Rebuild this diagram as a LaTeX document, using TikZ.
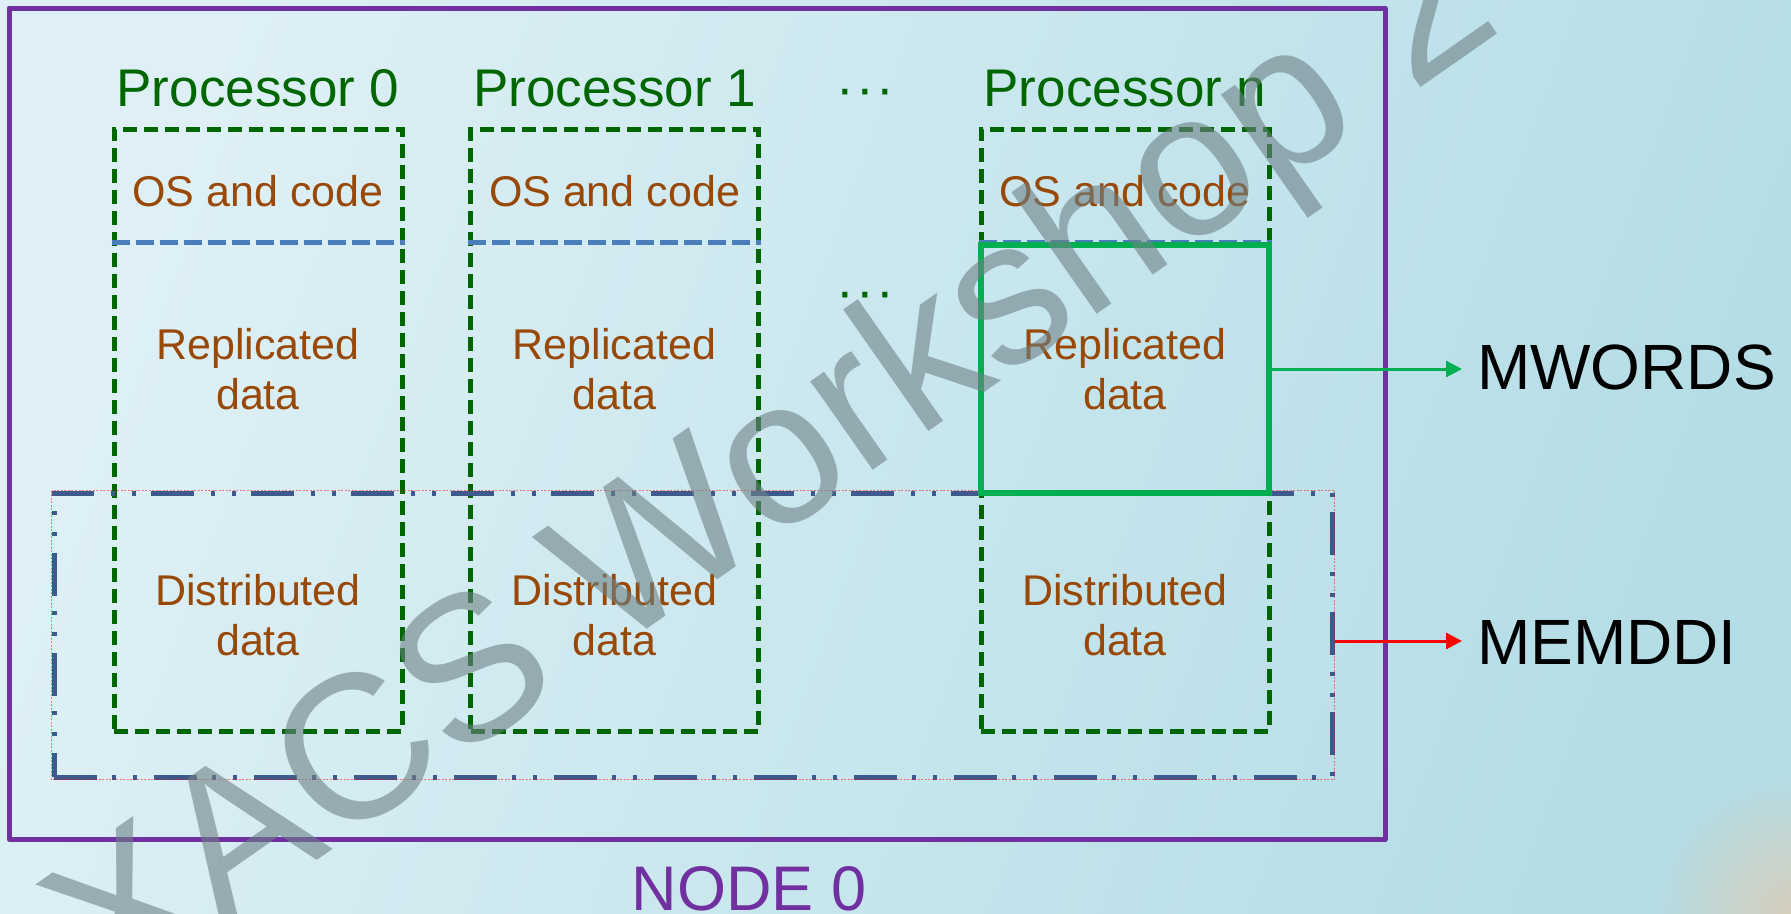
\documentclass[tikz,border=0pt]{standalone}
\usepackage{fontspec}
\setmainfont{Liberation Sans}
\usetikzlibrary{arrows.meta,fadings}

\definecolor{purp}{RGB}{112,48,160}
\definecolor{dgreen}{RGB}{0,102,0}
\definecolor{lgreen}{RGB}{0,176,80}
\definecolor{brownt}{RGB}{152,72,7}
\definecolor{bluedash}{RGB}{74,126,187}
\definecolor{slate}{RGB}{62,90,140}
\definecolor{bgA}{RGB}{222,240,245}
\definecolor{bgB}{RGB}{180,221,230}
\definecolor{tanc}{RGB}{214,206,188}
\definecolor{wmark}{RGB}{110,130,135}

\tikzfading[name=cornerfade, inner color=transparent!0, outer color=transparent!100]

\newcommand{\fsz}[2]{\fontsize{#1}{#2}\selectfont}

\begin{document}
\begin{tikzpicture}[x=1pt,y=-1pt,
  title/.style={text=dgreen, font=\fsz{53pt}{60pt}, inner sep=0pt, anchor=base},
  dotsnode/.style={text=dgreen, font=\fsz{53pt}{60pt}, inner sep=0pt, anchor=base},
  celltext/.style={text=brownt, font=\fsz{43pt}{50pt}, inner sep=0pt, align=center},
  procbox/.style={draw=dgreen, line width=5pt, dash pattern=on 14pt off 7pt,
    minimum width=288pt, minimum height=602pt, inner sep=0pt},
  bdash/.style={draw=bluedash, line width=5pt, dash pattern=on 18pt off 6pt},
  mwbox/.style={draw=lgreen, line width=5.5pt, minimum width=288pt, minimum height=248pt, inner sep=0pt},
  mdbox/.style={draw=slate, line width=5pt,
    dash pattern=on 43pt off 15pt on 4pt off 17pt on 4pt off 17pt,
    minimum width=1278pt, minimum height=284pt, inner sep=0pt},
  nodebox/.style={draw=purp, line width=5pt, line join=round, minimum width=1376pt, minimum height=831pt, inner sep=0pt},
  biglabel/.style={text=black, font=\fsz{64pt}{70pt}, inner sep=0pt, anchor=base west},
  arr/.style={line width=3pt, -{Triangle[length=16pt,width=16pt]}},
  wm/.style={text=wmark, text opacity=0.6, font=\fsz{205pt}{220pt}, inner sep=0pt, anchor=base west, rotate=35}
]
\useasboundingbox (0,0) rectangle (1791,913);
\clip (0,0) rectangle (1791,913);

% background
\shade[left color=bgA, right color=bgB, shading angle=70] (0,0) rectangle (1791,913);
\fill[tanc, path fading=cornerfade] (1791,913) circle (140pt);

% outer node box
\node[nodebox] (node0) at (697,423.5) {};
\node[text=purp, font=\fsz{63pt}{70pt}, inner sep=0pt, anchor=base] (node0label) at (749,910) {NODE 0};

% processor boxes
\node[procbox] (p0) at (258,430) {};
\node[procbox] (p1) at (614.5,430) {};
\node[procbox] (pn) at (1125,430) {};

% separators between OS and replicated data
\draw[bdash] ([yshift=-116pt]p0.north west) -- ([yshift=-116pt]p0.north east);
\draw[bdash] ([yshift=-116pt]p1.north west) -- ([yshift=-116pt]p1.north east);
\draw[bdash] ([yshift=-116pt]pn.north west) -- ([yshift=-116pt]pn.north east);

% MEMDDI box
\node[mdbox] (md) at (693,635) {};
\draw[red, line width=0.8pt, dash pattern=on 2pt off 1.5pt, opacity=0.5] (md.north west) rectangle (md.south east);

% MWORDS box
\node[mwbox] (mw) at (1125,369) {};

% titles
\node[title] (t0) at (258,106) {Processor 0};
\node[title] (t1) at (614.5,106) {Processor 1};
\node[dotsnode] (d1) at (865,106) {·\kern2.3pt·\kern2.3pt·};
\node[title] (tn) at (1125,106) {Processor n};
\node[dotsnode] (d2) at (865,309) {·\kern2.3pt·\kern2.3pt·};

% cell texts
\foreach \n/\x in {0/258, 1/614.5, n/1125}{
  \node[celltext, anchor=base] (os\n) at (\x,206) {OS and code};
  \node[celltext, anchor=north] (rep\n) at (\x,328.2) {Replicated\\data};
  \node[celltext, anchor=north] (dis\n) at (\x,574.2) {Distributed\\data};
}

% arrows and labels
\coordinate (mwtip) at (1462,369);
\coordinate (mdtip) at (1462,641);
\draw[arr, lgreen] (mw.east) -- (mwtip);
\draw[arr, red] (md.east |- mdtip) -- (mdtip);
\node[biglabel] (mwl) at (1477,389) {MWORDS};
\node[biglabel] (mdl) at (1477,664) {MEMDDI};

% watermark
\node[wm] (wmark) at (109,1006) {XACS Workshop 2};
\end{tikzpicture}
\end{document}
